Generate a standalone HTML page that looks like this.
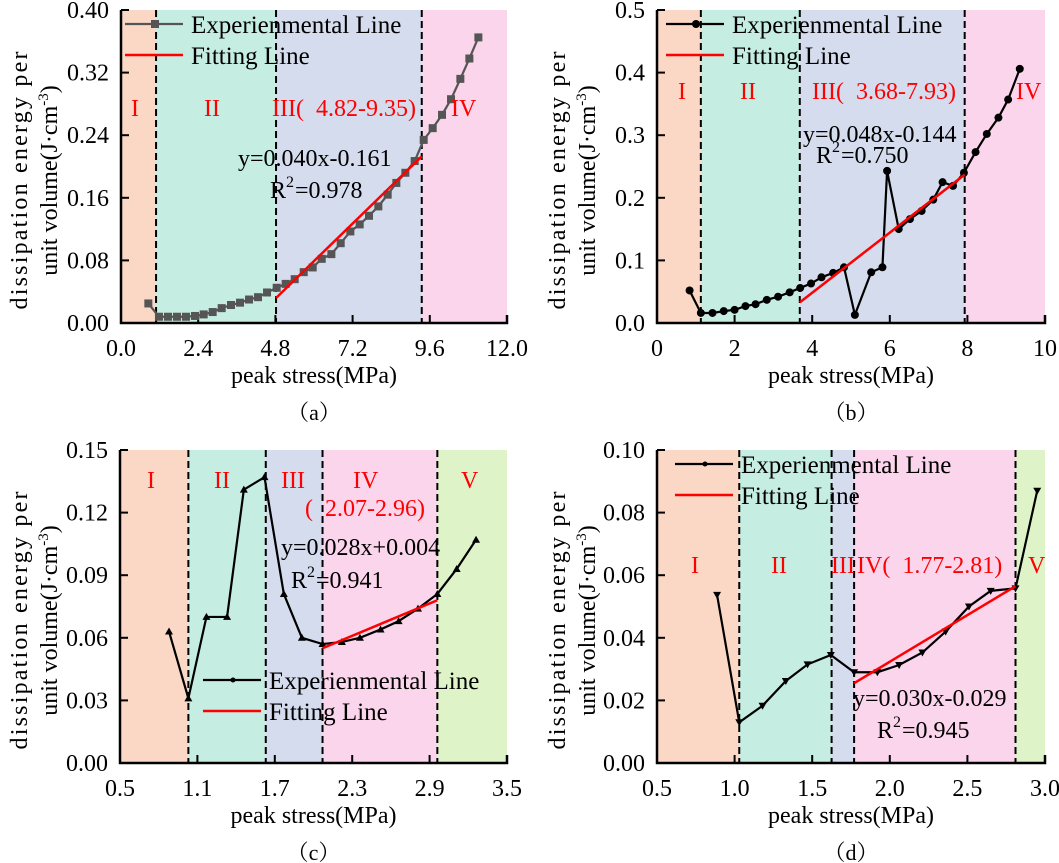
<!DOCTYPE html>
<html><head><meta charset="utf-8"><style>
html,body{margin:0;padding:0;background:#fff;}
svg{display:block;}
svg text{font-family:"Liberation Serif","Noto Serif CJK SC",serif;}
</style></head><body>
<svg id="fig" width="1059" height="863" viewBox="0 0 1059 863" xmlns="http://www.w3.org/2000/svg"></svg>
<script>
// Panel (a)
const aX=[0.85,1.18,1.46,1.74,2.02,2.30,2.57,2.85,3.13,3.42,3.70,3.98,4.26,4.54,4.84,5.12,5.40,5.68,5.96,6.24,6.54,6.83,7.13,7.42,7.71,8.00,8.29,8.56,8.84,9.13,9.41,9.69,9.98,10.26,10.55,10.83,11.11];
const aY=[0.025,0.008,0.008,0.008,0.008,0.009,0.011,0.014,0.019,0.023,0.026,0.030,0.033,0.039,0.045,0.050,0.056,0.065,0.071,0.082,0.088,0.102,0.117,0.126,0.137,0.149,0.164,0.179,0.192,0.207,0.234,0.249,0.266,0.286,0.312,0.338,0.365];
const aFitX=[4.82,9.35]; const aFitY=[0.032,0.213];
const aBounds=[1.09,4.82,9.35];
const aTicksX=["0.0","2.4","4.8","7.2","9.6","12.0"]; const aTicksY=["0.00","0.08","0.16","0.24","0.32","0.40"];
// Panel (b)
const bX=[0.84,1.13,1.43,1.72,2.0,2.28,2.54,2.83,3.12,3.42,3.69,3.97,4.24,4.54,4.82,5.10,5.52,5.81,5.93,6.23,6.52,6.82,7.12,7.36,7.63,7.91,8.21,8.50,8.80,9.05,9.35];
const bY=[0.052,0.016,0.016,0.019,0.021,0.027,0.030,0.037,0.042,0.049,0.056,0.063,0.073,0.080,0.089,0.013,0.081,0.089,0.243,0.150,0.166,0.179,0.197,0.225,0.219,0.240,0.273,0.302,0.328,0.357,0.406];
const bFitX=[3.68,7.93]; const bFitY=[0.033,0.237];
const bBounds=[1.13,3.68,7.93];
const bTicksX=["0","2","4","6","8","10"]; const bTicksY=["0.0","0.1","0.2","0.3","0.4","0.5"];
// Panel (c)
const cX=[0.88,1.03,1.17,1.33,1.46,1.62,1.77,1.91,2.07,2.22,2.36,2.52,2.66,2.81,2.96,3.11,3.26];
const cY=[0.063,0.031,0.070,0.070,0.131,0.137,0.081,0.060,0.057,0.058,0.060,0.064,0.068,0.074,0.081,0.093,0.107];
const cFitX=[2.07,2.96]; const cFitY=[0.055,0.078];
const cBounds=[1.03,1.63,2.07,2.96];
const cTicksX=["0.5","1.1","1.7","2.3","2.9","3.5"]; const cTicksY=["0.00","0.03","0.06","0.09","0.12","0.15"];
// Panel (d)
const dX=[0.887,1.03,1.18,1.33,1.47,1.62,1.77,1.92,2.06,2.21,2.36,2.51,2.65,2.81,2.95];
const dY=[0.0537,0.0130,0.0183,0.0262,0.0315,0.0345,0.029,0.029,0.0313,0.0353,0.042,0.050,0.055,0.0558,0.087];
const dFitX=[1.77,2.81]; const dFitY=[0.0255,0.0565];
const dBounds=[1.03,1.625,1.77,2.81];
const dTicksX=["0.5","1.0","1.5","2.0","2.5","3.0"]; const dTicksY=["0.00","0.02","0.04","0.06","0.08","0.10"];

const NS="http://www.w3.org/2000/svg";
const svg=document.getElementById('fig');
const FF='"Liberation Serif","Noto Serif CJK SC",serif';
function mk(tag,attrs,parent,txt){const e=document.createElementNS(NS,tag);for(const k in attrs)e.setAttribute(k,attrs[k]);if(tag==='text')e.setAttribute('font-family',FF);if(txt!==undefined)e.textContent=txt;(parent||svg).appendChild(e);return e;}
const regionColors=["#fbd8c6","#c6ede2","#d5dcee","#fbd5ec","#dff3c9"];
const SP='\u00a0\u00a0';

function panel(p){
  const g=mk('g',{},svg);
  
  
  const sx=v=>p.L+(v-p.xmin)/(p.xmax-p.xmin)*(p.R-p.L);
  const sy=v=>p.B-(v-p.ymin)/(p.ymax-p.ymin)*(p.B-p.T);
  const edges=[p.xmin].concat(p.bounds).concat([p.xmax]);
  for(let i=0;i<edges.length-1;i++){
    const r=mk('rect',{x:sx(edges[i]),y:p.T,width:sx(edges[i+1])-sx(edges[i]),height:p.B-p.T,fill:regionColors[i]},g);
    
    
  }
  p.bounds.forEach(b=>{const l=mk('line',{x1:sx(b),x2:sx(b),y1:p.T,y2:p.B,stroke:'#000','stroke-width':2,'stroke-dasharray':'7,4'},g);
    
    });
  const ax=mk('path',{d:`M${p.L},${p.T} L${p.L},${p.B} L${p.R},${p.B} L${p.R},${p.B-8}`,fill:'none',stroke:'#000','stroke-width':2.5},g);
  
  
  p.tx.forEach((t,i)=>{const v=p.xmin+i*(p.xmax-p.xmin)/(p.tx.length-1);const x=sx(v);
    mk('line',{x1:x,x2:x,y1:p.B,y2:p.B-8,stroke:'#000','stroke-width':2},g);
    const tt=mk('text',{x:x,y:p.B+33,'text-anchor':'middle','font-size':24},g,t);
    
    });
  p.ty.forEach((t,i)=>{const v=p.ymin+i*(p.ymax-p.ymin)/(p.ty.length-1);const y=sy(v);
    mk('line',{x1:p.L,x2:p.L+8,y1:y,y2:y,stroke:'#000','stroke-width':2},g);
    const tt=mk('text',{x:p.L-12,y:y+8,'text-anchor':'end','font-size':24},g,t);
    
    });
  const pts=p.xs.map((x,i)=>sx(x)+','+sy(p.ys[i])).join(' ');
  const pl=mk('polyline',{points:pts,fill:'none',stroke:p.color,'stroke-width':2.2},g);
  
  
  p.xs.forEach((x,i)=>{const cx=sx(x),cy=sy(p.ys[i]);let m;
    if(p.marker==='sq') m=mk('rect',{x:cx-4,y:cy-4,width:8,height:8,fill:p.color},g);
    else if(p.marker==='ci') m=mk('circle',{cx:cx,cy:cy,r:4,fill:p.color},g);
    else if(p.marker==='tu') m=mk('path',{d:`M${cx-4},${cy+3} L${cx+4},${cy+3} L${cx},${cy-4}Z`,fill:p.color},g);
    else m=mk('path',{d:`M${cx-4},${cy-3} L${cx+4},${cy-3} L${cx},${cy+4}Z`,fill:p.color},g);
    
    });
  const fl=mk('line',{x1:sx(p.fx[0]),y1:sy(p.fy[0]),x2:sx(p.fx[1]),y2:sy(p.fy[1]),stroke:'#ff0000','stroke-width':2.5},g);
  
  
  const lg=mk('g',{},g);
  
  
  mk('line',{x1:p.lg[0],x2:p.lg[0]+58,y1:p.lg[1],y2:p.lg[1],stroke:p.color,'stroke-width':2.2},lg);
  const mx=p.lg[0]+30,my=p.lg[1];
  if(p.marker==='sq') mk('rect',{x:mx-4,y:my-4,width:8,height:8,fill:p.color},lg);
  else if(p.marker==='ci') mk('circle',{cx:mx,cy:my,r:4,fill:p.color},lg);
  else mk('circle',{cx:mx,cy:my,r:2.5,fill:p.color},lg);
  mk('text',{x:p.lg[0]+66,y:p.lg[1]+9,'font-size':25},lg,'Experienmental Line');
  mk('line',{x1:p.lg[0],x2:p.lg[0]+58,y1:p.lg[1]+31,y2:p.lg[1]+31,stroke:'#ff0000','stroke-width':2.5},lg);
  mk('text',{x:p.lg[0]+66,y:p.lg[1]+40,'font-size':25},lg,'Fitting Line');
  p.labels.forEach(l=>{const t=mk('text',{x:l[0],y:l[1],'font-size':l[5]||24,fill:l[3]||'#ff0000','text-anchor':l[4]||'start'},g,l[2]);
    
    });
  const xt=mk('text',{x:(p.L+p.R)/2,y:p.B+60,'text-anchor':'middle','font-size':24},g,'peak stress(MPa)');
  
  
  const cy=(p.T+p.B)/2+14;
  const y1=mk('text',{x:0,y:0,'text-anchor':'middle','font-size':24,textLength:258,lengthAdjust:'spacing',transform:`translate(${p.yt},${cy}) rotate(-90)`},g,'dissipation energy per');
  
  
  const y2=mk('text',{x:0,y:0,'text-anchor':'middle','font-size':24,transform:`translate(${p.yt+30},${cy}) rotate(-90)`},g);
  
  
  y2.appendChild(document.createTextNode('unit volume(J·cm'));
  mk('tspan',{'font-size':15,dy:-9},y2,'-3');
  mk('tspan',{dy:9},y2,')');
  const cap=mk('text',{x:(p.L+p.R)/2,y:p.B+97,'text-anchor':'middle','font-size':22},g,'（'+p.id+'）');
  
  
}
function R2(x,y,txt){return [[x,y,'R',"#000"],[x+16,y-11,'2','#000','start',16],[x+25,y,txt,'#000']];}

panel({id:'a',L:121,R:507,T:10,B:323,xmin:0,xmax:12,ymin:0,ymax:0.4,bounds:aBounds,tx:aTicksX,ty:aTicksY,xs:aX,ys:aY,fx:aFitX,fy:aFitY,color:'#555',marker:'sq',lg:[125,24],yt:27,
 labels:[[131,116,'I'],[204,116,'II'],[272,116,'III('+SP+'4.82-9.35)'],[451,116,'IV'],[238,166,'y=0.040x-0.161','#000']].concat(R2(270,198,'=0.978'))});
panel({id:'b',L:657,R:1045,T:10,B:323,xmin:0,xmax:10,ymin:0,ymax:0.5,bounds:bBounds,tx:bTicksX,ty:bTicksY,xs:bX,ys:bY,fx:bFitX,fy:bFitY,color:'#000',marker:'ci',lg:[666,24],yt:565,
 labels:[[678,99,'I'],[740,99,'II'],[812,99,'III('+SP+'3.68-7.93)'],[1016,99,'IV'],[803,142,'y=0.048x-0.144','#000']].concat(R2(816,163,'=0.750'))});
panel({id:'c',L:120,R:507,T:450,B:763,xmin:0.5,xmax:3.5,ymin:0,ymax:0.15,bounds:cBounds,tx:cTicksX,ty:cTicksY,xs:cX,ys:cY,fx:cFitX,fy:cFitY,color:'#000',marker:'tu',lg:[203,680],yt:27,
 labels:[[147,488,'I'],[214,488,'II'],[281,488,'III'],[353,488,'IV'],[461,488,'V'],[305,516,'('+SP+'2.07-2.96)'],[281,555,'y=0.028x+0.004','#000']].concat(R2(291,588,'=0.941'))});
panel({id:'d',L:657,R:1045,T:450,B:763,xmin:0.5,xmax:3.0,ymin:0,ymax:0.10,bounds:dBounds,tx:dTicksX,ty:dTicksY,xs:dX,ys:dY,fx:dFitX,fy:dFitY,color:'#000',marker:'td',lg:[675,464],yt:565,
 labels:[[691,573,'I'],[771,573,'II'],[831,573,'III'],[857,573,'IV('+SP+'1.77-2.81)'],[1028,573,'V'],[853,706,'y=0.030x-0.029','#000']].concat(R2(877,738,'=0.945'))});
</script>
</body></html>
